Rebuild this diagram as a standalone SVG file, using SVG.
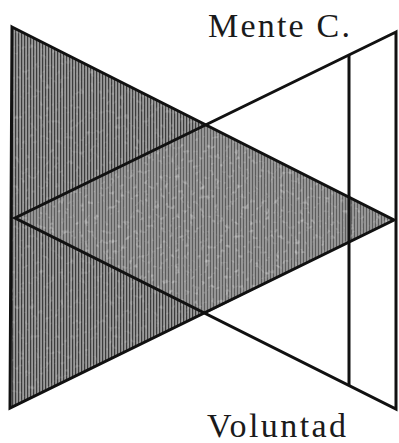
<svg xmlns="http://www.w3.org/2000/svg" width="399" height="443" viewBox="0 0 399 443">
  <style>
    .edge { fill: none; stroke: #111; stroke-width: 3; stroke-linejoin: miter; }
    .label { font-family: "Liberation Serif", "DejaVu Serif", serif; font-size: 34px; fill: #1a1a1a; }
  </style>
  <defs>
    <pattern id="darkHatch" width="3" height="6" patternUnits="userSpaceOnUse">
      <rect width="3" height="6" fill="#9a9a9a"/>
      <rect width="1.2" height="6" fill="#3c3c3c"/>
    </pattern>
    <pattern id="lightHatch" width="3" height="6" patternUnits="userSpaceOnUse">
      <rect width="3" height="6" fill="#959595"/>
      <rect width="1" height="6" fill="#5c5c5c"/>
    </pattern>
    <filter id="speckle" x="0" y="0" width="100%" height="100%">
      <feTurbulence type="fractalNoise" baseFrequency="0.2" numOctaves="2" seed="7" result="n"/>
      <feColorMatrix in="n" type="matrix" values="0 0 0 0 1  0 0 0 0 1  0 0 0 0 1  0 0 0 3.2 -1.9" result="w"/>
      <feComposite in="w" in2="SourceGraphic" operator="in"/>
    </filter>
  </defs>

  <g id="left-triangle">
    <polygon points="12,27 394,220 10,408" fill="url(#darkHatch)"/>
    <polygon points="12,27 394,220 10,408" fill="#fff" filter="url(#speckle)" opacity="0.25"/>
  </g>
  <g id="overlap">
    <polygon points="15,218 205,124 394,220 205,314" fill="url(#lightHatch)"/>
    <polygon points="15,218 205,124 394,220 205,314" fill="#fff" filter="url(#speckle)" opacity="0.4"/>
  </g>

  <g id="connectors">
    <polygon class="edge" points="12,27 394,220 10,408"/>
    <polygon class="edge" points="396,32 15,218 396,409"/>
    <line class="edge" x1="349" y1="55" x2="349" y2="385"/>
  </g>

  <g id="label-mente">
    <text class="label" x="208" y="37" textLength="142" lengthAdjust="spacing">Mente  C.</text>
  </g>
  <g id="label-voluntad">
    <text class="label" x="207" y="437" textLength="139" lengthAdjust="spacing">Voluntad</text>
  </g>
</svg>
